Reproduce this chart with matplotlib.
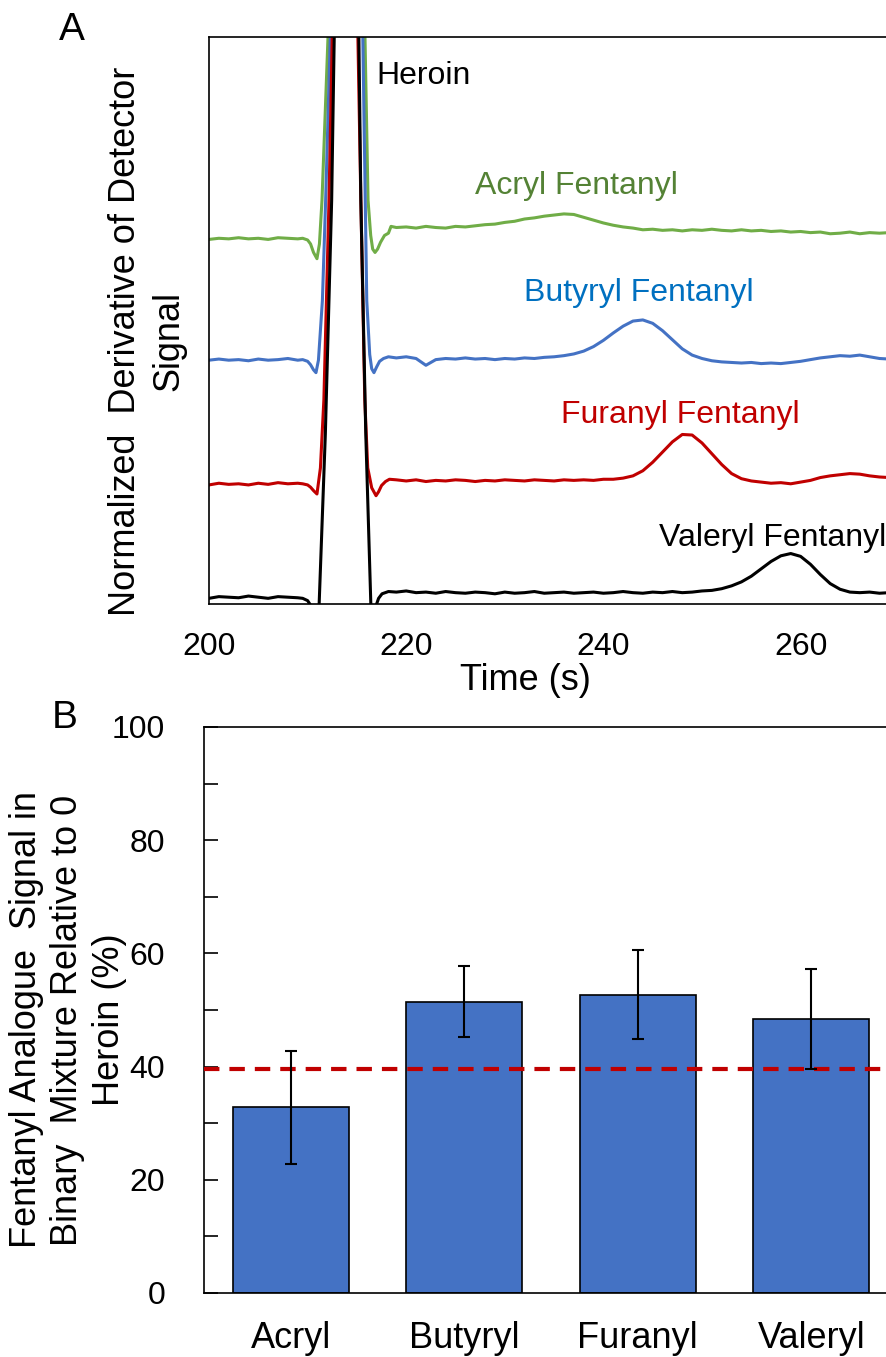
import numpy as np
import matplotlib
matplotlib.use('Agg')
import matplotlib.pyplot as plt

plt.rcParams['font.family'] = ['Liberation Sans', 'DejaVu Sans']

# ---- panel A: derivative traces, time (s) and normalized signal ----
# each trace: 1 s steps 200-209, a hand-read stretch around the heroin peak, then 1 s steps 219-270
pre_t = list(range(200, 210))
post_t = list(range(219, 271))

green_t = pre_t + [209.5, 210.0, 210.3, 210.6, 210.95, 211.2, 211.46, 212.07, 213.9, 215.82, 216.13,
                   216.4, 216.6, 216.84, 217.1, 217.4, 217.8, 218.2, 218.46] + post_t
green_v = [64.3, 64.5, 64.4, 64.6, 64.4, 64.5, 64.3, 64.6, 64.5, 64.4,
           64.5, 64.2, 63.5, 62.0, 60.9, 63.5, 71.2, 100, 150, 100, 71.2,
           65.0, 62.6, 62.0, 62.6, 63.8, 65.0, 65.4, 66.6,
           66.4, 66.5, 66.3, 66.6, 66.4, 66.3, 66.6, 66.5, 66.7, 66.9, 67.0, 67.3, 67.5, 67.9, 68.1,
           68.4, 68.6, 68.8, 68.7, 68.2, 67.7, 67.2, 66.8, 66.5, 66.3, 66.0, 66.1, 65.9, 66.0, 65.8,
           66.0, 65.9, 66.1, 65.9, 65.8, 66.0, 65.8, 65.9, 65.7, 65.8, 65.6, 65.7, 65.5, 65.6, 65.3,
           65.4, 65.6, 65.3, 65.5, 65.4, 65.5, 65.4]

blue_t = pre_t + [209.5, 210.0, 210.3, 210.6, 210.85, 211.1, 211.5, 211.83, 212.3, 213.9, 215.6, 216.0,
                  216.3, 216.5, 216.73, 217.0, 217.3, 217.7, 218.2] + post_t
blue_v = [43.0, 43.2, 43.0, 43.1, 42.9, 43.2, 43.0, 43.1, 43.3, 43.0,
          43.1, 42.8, 42.2, 41.3, 40.8, 43.0, 53.5, 71.2, 100, 150, 100, 53.5,
          44.0, 41.5, 40.8, 41.8, 42.8, 43.3, 43.6,
          43.4, 43.6, 43.3, 42.1, 43.1, 43.3, 43.2, 43.4, 43.2, 43.3, 43.1, 43.3, 43.2, 43.4, 43.3,
          43.5, 43.6, 43.8, 44.1, 44.6, 45.4, 46.5, 47.8, 49.0, 49.9, 50.1, 49.5, 48.2, 46.6, 45.0,
          43.9, 43.3, 42.9, 42.7, 42.6, 42.5, 42.6, 42.4, 42.5, 42.4, 42.6, 42.8, 43.1, 43.4, 43.6,
          43.8, 43.7, 43.9, 43.6, 43.3, 43.2, 43.1]

red_t = pre_t + [209.5, 210.0, 210.3, 210.6, 210.95, 211.3, 211.65, 212.17, 212.5, 213.9, 215.1, 215.4,
                 215.8, 216.1, 216.5, 216.94, 217.2, 217.5, 217.9, 218.3] + post_t
red_v = [21.0, 21.3, 21.1, 21.2, 21.0, 21.3, 21.1, 21.4, 21.2, 21.3,
         21.2, 21.0, 20.6, 20.0, 19.4, 24.0, 36.0, 71.2, 100, 150, 100, 71.2,
         36.0, 24.0, 20.5, 19.1, 19.8, 20.9, 21.6, 22.0,
         21.9, 21.7, 21.9, 21.6, 21.8, 21.7, 21.9, 21.8, 21.6, 21.8, 21.7, 21.9, 21.8, 21.7, 21.9,
         21.8, 21.7, 21.9, 21.8, 21.9, 21.8, 22.0, 22.0, 22.2, 22.6, 23.5, 25.0, 26.8, 28.6, 29.9,
         29.8, 28.4, 26.5, 24.6, 23.0, 22.1, 21.7, 21.5, 21.3, 21.4, 21.2, 21.5, 21.8, 22.3, 22.6,
         22.8, 23.0, 22.9, 22.6, 22.4, 22.3, 22.4]

black_t = pre_t + [209.5, 210.0, 210.3, 210.7, 211.15, 211.8, 212.44, 212.7, 213.9, 215.2, 215.4,
                   215.9, 216.43, 216.8, 217.2, 217.55, 218.2] + post_t
black_v = [1.0, 1.3, 1.2, 1.1, 1.4, 1.2, 1.0, 1.3, 1.2, 1.1,
           1.0, 0.6, -0.2, -2.0, -1.0, 30, 71.2, 100, 150, 100, 71.2,
           30, -1.0, -1.0, 1.0, 1.8, 2.2,
           2.1, 2.3, 2.0, 2.1, 1.9, 2.2, 2.0, 1.9, 2.1, 2.0, 1.8, 2.1, 1.9, 2.0, 2.2,
           1.9, 2.0, 2.1, 1.9, 2.0, 2.1, 1.9, 2.0, 2.2, 2.0, 1.9, 2.1, 2.0, 2.2, 2.0,
           2.1, 2.3, 2.4, 2.7, 3.2, 3.9, 4.9, 6.2, 7.5, 8.5, 8.9, 8.4, 7.0, 5.2, 3.6,
           2.6, 2.1, 2.0, 2.1, 1.9, 2.0, 2.1]

time_ticks = [200, 220, 240, 260]

# ---- panel B: bar chart ----
analogues = ['Acryl', 'Butyryl', 'Furanyl', 'Valeryl']
signal_pct = [32.8, 51.5, 52.7, 48.4]
signal_err = [10.0, 6.3, 7.9, 8.9]
threshold = 39.5

fig = plt.figure(figsize=(8.87, 13.57), dpi=100)

# top panel, axes runs past the right edge like the cropped original
ax1 = fig.add_axes([209 / 887, 1 - 604 / 1357, 80 * 9.86 / 887, 567 / 1357])
ax1.plot(green_t, green_v, color='#70AD47', lw=2.2)
ax1.plot(blue_t, blue_v, color='#4472C4', lw=2.2)
ax1.plot(red_t, red_v, color='#C00000', lw=2.2)
ax1.plot(black_t, black_v, color='black', lw=2.2)
ax1.set_xlim(200, 280)
ax1.set_ylim(0, 100)
ax1.set_xticks(time_ticks)
ax1.set_yticks([])
ax1.tick_params(axis='x', length=0, pad=20, labelsize=23)
for s in ax1.spines.values():
    s.set_linewidth(1.2)

ax1.text(217.0, 93.1, 'Heroin', fontsize=23, color='black', va='center', ha='left')
ax1.text(227.0, 73.7, 'Acryl Fentanyl', fontsize=23, color='#548235', va='center', ha='left')
ax1.text(231.9, 54.8, 'Butyryl Fentanyl', fontsize=23, color='#0070C0', va='center', ha='left')
ax1.text(235.7, 33.4, 'Furanyl Fentanyl', fontsize=23, color='#C00000', va='center', ha='left')
ax1.text(245.6, 11.7, 'Valeryl Fentanyl', fontsize=23, color='black', va='center', ha='left')

fig.text(525 / 887, 1 - 680 / 1357, 'Time (s)', fontsize=26, ha='center', va='center')
fig.text(147 / 887, 1 - 341 / 1357, 'Normalized  Derivative of Detector\nSignal', fontsize=26,
         rotation=90, ha='center', va='center', multialignment='center', linespacing=1.3)
fig.text(72 / 887, 1 - 30 / 1357, 'A', fontsize=28, ha='center', va='center')

# bottom panel
ax2 = fig.add_axes([204 / 887, 1 - 1293 / 1357, 5 * 173.5 / 887, 566 / 1357])
xpos = np.arange(len(analogues))
ax2.bar(xpos, signal_pct, width=0.67, color='#4472C4', edgecolor='black', linewidth=1.2, zorder=2)
ax2.errorbar(xpos, signal_pct, yerr=signal_err, fmt='none', ecolor='black', elinewidth=1.5,
             capsize=4.5, capthick=1.5, zorder=4)
ax2.axhline(threshold, color='#C00000', lw=3, dashes=(3.7, 2.4), zorder=3)
ax2.set_xlim(-0.5, 4.5)
ax2.set_ylim(0, 100)
ax2.set_xticks(xpos)
ax2.set_xticklabels(analogues)
ax2.set_yticks(np.arange(0, 101, 20))
ax2.set_yticks(np.arange(10, 100, 20), minor=True)
ax2.tick_params(axis='y', which='both', direction='in', length=10, width=1.2, pad=28, labelsize=23)
ax2.tick_params(axis='x', length=0, pad=20, labelsize=26)
for s in ax2.spines.values():
    s.set_linewidth(1.2)

fig.text(68 / 887, 1 - 1020 / 1357,
         'Fentanyl Analogue  Signal in\nBinary  Mixture Relative to 0\nHeroin (%)', fontsize=26,
         rotation=90, ha='center', va='center', multialignment='center', linespacing=1.25)
fig.text(65 / 887, 1 - 718 / 1357, 'B', fontsize=28, ha='center', va='center')

fig.savefig('out.png', dpi=100)
